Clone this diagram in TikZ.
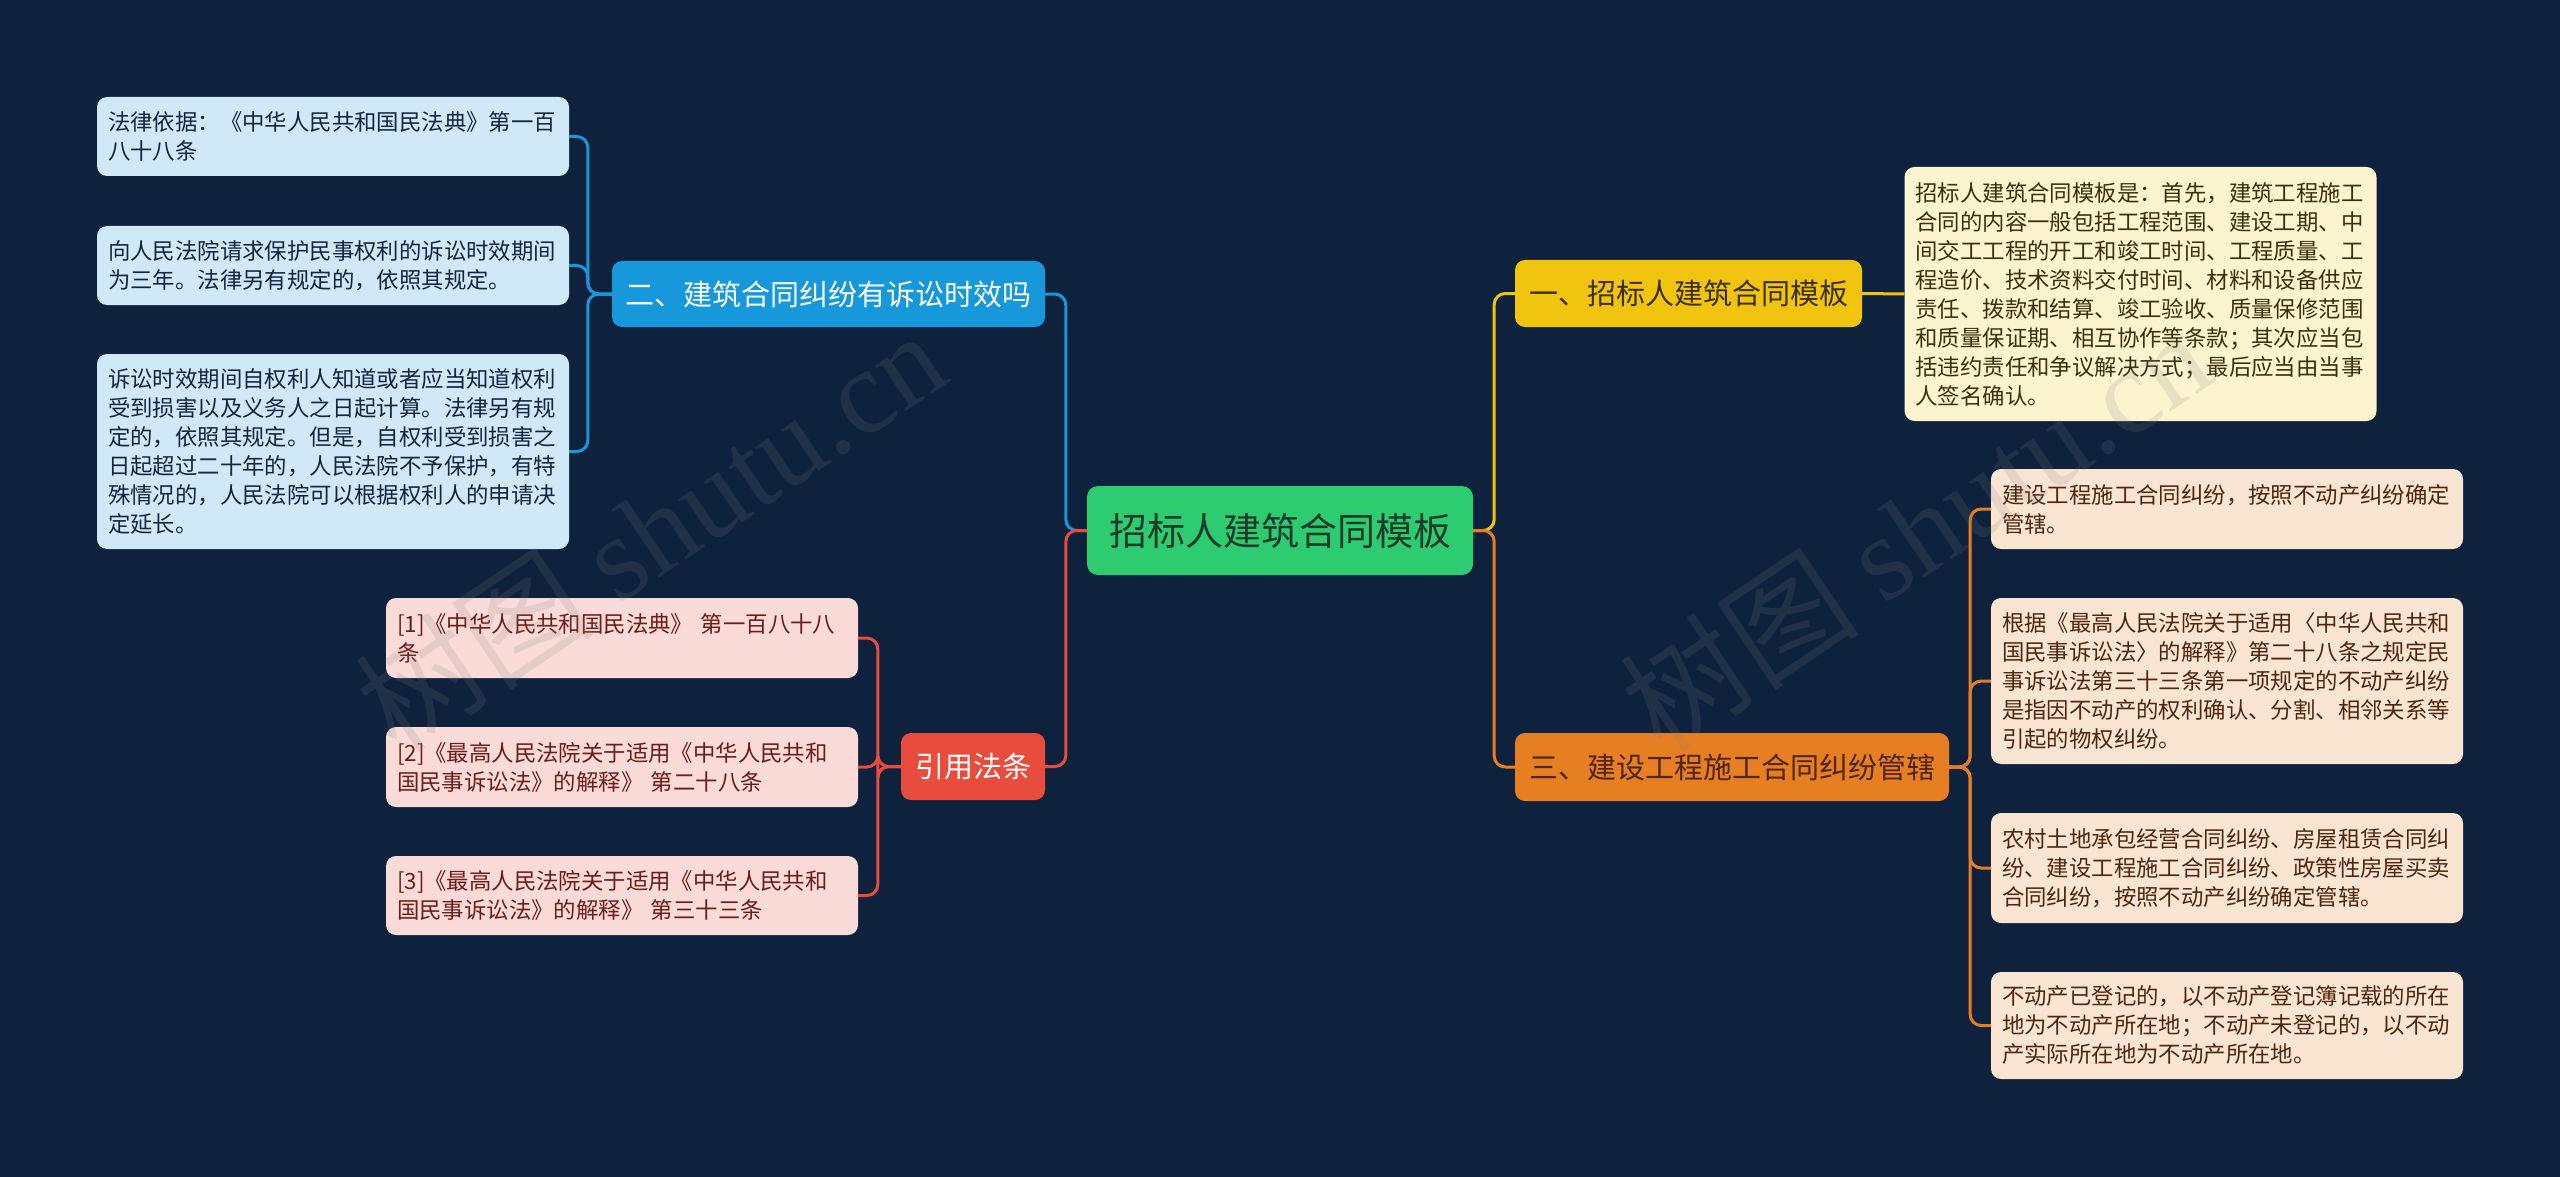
\documentclass[tikz,border=0pt]{standalone}
\usepackage{fontspec}
\setmainfont{Noto Sans CJK SC}
\newfontfamily\wmlatin{Liberation Serif}
\definecolor{bgc}{RGB}{14,33,61}
\definecolor{greenc}{RGB}{46,204,113}
\definecolor{greentxt}{RGB}{28,58,40}
\definecolor{bluec}{RGB}{22,152,219}
\definecolor{redc}{RGB}{231,76,60}
\definecolor{yellowc}{RGB}{241,196,15}
\definecolor{orangec}{RGB}{230,126,34}
\definecolor{bluebox}{RGB}{207,233,248}
\definecolor{bluetxt}{RGB}{16,38,64}
\definecolor{redbox}{RGB}{250,219,216}
\definecolor{redtxt}{RGB}{110,28,22}
\definecolor{yellowbox}{RGB}{252,243,207}
\definecolor{yellowtxt}{RGB}{60,48,12}
\definecolor{orangebox}{RGB}{250,229,211}
\definecolor{orangetxt}{RGB}{78,38,14}
\begin{document}
\begin{tikzpicture}[x=1pt,y=-1pt,
  textbox/.style={rounded corners=10pt, inner xsep=11pt, inner ysep=0pt, align=left, text width=450pt, font=\fontsize{22.4}{29}\selectfont},
  bluebx/.style={textbox, fill=bluebox, text=bluetxt},
  redbx/.style={textbox, fill=redbox, text=redtxt},
  yellowbx/.style={textbox, fill=yellowbox, text=yellowtxt},
  orangebx/.style={textbox, fill=orangebox, text=orangetxt},
  topic/.style={rounded corners=10pt, inner sep=0pt, align=center, font=\fontsize{29}{34}\selectfont},
  conn/.style={line width=3pt, rounded corners=11pt},
  watermark/.style={rotate=34, opacity=0.16, text=gray, inner sep=0pt}]
\useasboundingbox (0,0) rectangle (2560,1177);
\fill[bgc] (0,0) rectangle (2560,1177);

% central node
\node[rounded corners=11pt, inner sep=0pt, fill=greenc, text=greentxt, minimum width=386pt, minimum height=89pt, font=\fontsize{38}{44}\selectfont] (C) at (1280,530.5) {招标人建筑合同模板};

% main topics
\node[topic, fill=bluec, text=white, minimum width=433pt, minimum height=66pt] (B) at (828.5,294) {二、建筑合同纠纷有诉讼时效吗};
\node[topic, fill=redc, text=white, minimum width=144pt, minimum height=67pt] (Rd) at (973,766.5) {引用法条};
\node[topic, fill=yellowc, text=yellowtxt, minimum width=347pt, minimum height=67pt] (Y) at (1688.5,293.5) {一、招标人建筑合同模板};
\node[topic, fill=orangec, text=orangetxt, minimum width=434pt, minimum height=68pt] (O) at (1732,767) {三、建设工程施工合同纠纷管辖};

% left blue boxes
\node[bluebx, minimum height=79pt] (L1) at (333,136.5) {法律依据：《中华人民共和国民法典》第一百\\八十八条};
\node[bluebx, minimum height=79pt] (L2) at (333,265.5) {向人民法院请求保护民事权利的诉讼时效期间\\为三年。法律另有规定的，依照其规定。};
\node[bluebx, minimum height=195pt] (L3) at (333,451.5) {诉讼时效期间自权利人知道或者应当知道权利\\受到损害以及义务人之日起计算。法律另有规\\定的，依照其规定。但是，自权利受到损害之\\日起超过二十年的，人民法院不予保护，有特\\殊情况的，人民法院可以根据权利人的申请决\\定延长。};

% reference boxes
\node[redbx, minimum height=80pt] (R1) at (622,638) {[1]《中华人民共和国民法典》 第一百八十八\\条};
\node[redbx, minimum height=80pt] (R2) at (622,767) {[2]《最高人民法院关于适用《中华人民共和\\国民事诉讼法》的解释》 第二十八条};
\node[redbx, minimum height=79pt] (R3) at (622,895.5) {[3]《最高人民法院关于适用《中华人民共和\\国民事诉讼法》的解释》 第三十三条};

% yellow text box
\node[yellowbx, minimum height=254pt] (YT) at (2140.5,294) {招标人建筑合同模板是：首先，建筑工程施工\\合同的内容一般包括工程范围、建设工期、中\\间交工工程的开工和竣工时间、工程质量、工\\程造价、技术资料交付时间、材料和设备供应\\责任、拨款和结算、竣工验收、质量保修范围\\和质量保证期、相互协作等条款；其次应当包\\括违约责任和争议解决方式；最后应当由当事\\人签名确认。};

% orange boxes
\node[orangebx, minimum height=80pt] (O1) at (2227,509) {建设工程施工合同纠纷，按照不动产纠纷确定\\管辖。};
\node[orangebx, minimum height=166pt] (O2) at (2227,681) {根据《最高人民法院关于适用〈中华人民共和\\国民事诉讼法〉的解释》第二十八条之规定民\\事诉讼法第三十三条第一项规定的不动产纠纷\\是指因不动产的权利确认、分割、相邻关系等\\引起的物权纠纷。};
\node[orangebx, minimum height=110pt] (O3) at (2227,868) {农村土地承包经营合同纠纷、房屋租赁合同纠\\纷、建设工程施工合同纠纷、政策性房屋买卖\\合同纠纷，按照不动产纠纷确定管辖。};
\node[orangebx, minimum height=107pt] (O4) at (2227,1025.5) {不动产已登记的，以不动产登记簿记载的所在\\地为不动产所在地；不动产未登记的，以不动\\产实际所在地为不动产所在地。};

% connectors from centre
\draw[conn, draw=bluec] (C.west) -- ++(-21,0) |- (B.east);
\draw[conn, draw=redc] (C.west) -- ++(-21,0) |- (Rd.east);
\draw[conn, draw=yellowc] (C.east) -- ++(21,0) |- (Y.west);
\draw[conn, draw=orangec] (C.east) -- ++(21,0) |- (O.west);

% blue branch
\foreach \n in {L1,L2,L3} \draw[conn, draw=bluec] (B.west) -- ++(-24,0) |- (\n.east);
% red branch
\foreach \n in {R1,R2,R3} \draw[conn, draw=redc] (Rd.west) -- ++(-23,0) |- (\n.east);
% yellow branch
\draw[conn, draw=yellowc] (Y.east) -- (YT.west);
% orange branch
\foreach \n in {O1,O2,O3,O4} \draw[conn, draw=orangec] (O.east) -- ++(21,0) |- (\n.west);

% watermarks
\node[watermark] (W1) at (650,530) {\fontsize{120}{120}\selectfont 树图 \wmlatin shutu.cn};
\node[watermark] (W2) at (1915,530) {\fontsize{120}{120}\selectfont 树图 \wmlatin shutu.cn};
\end{tikzpicture}
\end{document}
